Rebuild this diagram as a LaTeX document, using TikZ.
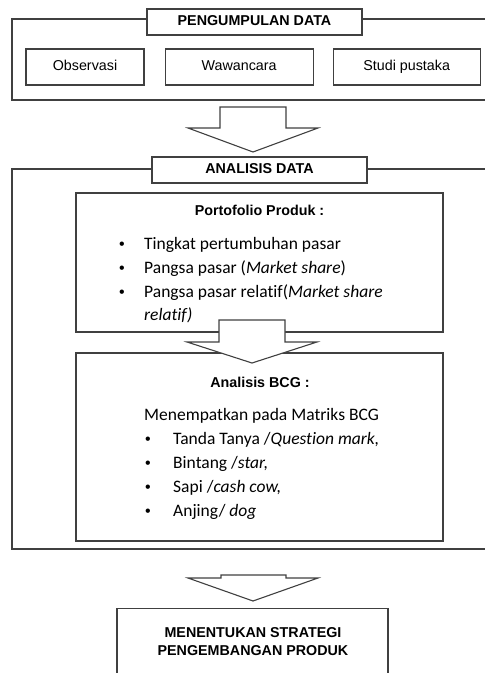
\documentclass[tikz,border=0pt]{standalone}
\usepackage{fontspec}
\setmainfont{Liberation Sans}
\newfontfamily\calibrifont[Ligatures=NoCommon]{Carlito}
\usetikzlibrary{positioning}

\tikzset{
  ln/.style={draw=black!75, line width=1.1pt},
  titlebox/.style={ln, fill=white, minimum width=215pt, minimum height=26pt, inner sep=0pt,
    text height=10pt, text depth=3pt, font=\fontsize{14.3}{16}\selectfont\bfseries},
  subbox/.style={ln, minimum height=36pt, inner sep=0pt, text height=10pt, text depth=3pt,
    font=\fontsize{14.3}{16}\selectfont},
  panel/.style={ln, minimum width=367pt, inner sep=0pt},
  blockarrow/.style={ln, fill=white, line join=miter},
  head/.style={anchor=base, inner sep=0pt, font=\fontsize{14.3}{16}\selectfont\bfseries},
  item/.style={anchor=base west, inner sep=0pt, font=\calibrifont\fontsize{17.5}{21}\selectfont},
  dot/.style={anchor=base, inner sep=0pt, font=\fontsize{16}{18}\selectfont},
}

\begin{document}
\begin{tikzpicture}[x=1pt, y=-1pt]
  \useasboundingbox (0,0) rectangle (485,673);
  \clip (0,0) rectangle (485,673);

  % pengumpulan data
  \draw[ln] (495,19) -- (12,19) -- (12,100) -- (495,100);
  \node[titlebox] (kumpul) at (254.5,22) {PENGUMPULAN DATA};
  \node[subbox, minimum width=118pt] (obs) at (85,67) {Observasi};
  \node[subbox, minimum width=148pt, right=20pt of obs] (wawan) {Wawancara};
  \node[subbox, minimum width=147pt, right=19pt of wawan] (studi) {Studi pustaka};

  \draw[blockarrow] (220,107) -- (286,107) -- (286,128) -- (318,128) -- (253,152)
    -- (188,128) -- (220,128) -- cycle;

  % analisis data
  \draw[ln] (495,169) -- (12,169) -- (12,549) -- (495,549);
  \node[titlebox] (analisis) at (259.5,170) {ANALISIS DATA};

  \node[panel, minimum height=139pt] (porto) at (259.5,262.5) {};
  \node[head] (portohead) at (259.5,215) {Portofolio Produk :};
  \node[dot] at (122,249) {•};
  \node[item] (p1) at (144,249) {Tingkat pertumbuhan pasar};
  \node[dot] at (122,273) {•};
  \node[item] (p2) at (144,273) {Pangsa pasar (\textit{Market share})};
  \node[dot] at (122,297) {•};
  \node[item] (p3) at (144,297) {Pangsa pasar relatif(\textit{Market share}};
  \node[item] (p3b) at (144,320) {\textit{relatif)}};

  \node[panel, minimum height=188pt] (bcg) at (259.5,447) {};
  \node[head] (bcghead) at (260,387) {Analisis BCG :};
  \node[item] (b0) at (144,420) {Menempatkan pada Matriks BCG};
  \node[dot] at (148,444) {•};
  \node[item] (b1) at (173,444) {Tanda Tanya /\textit{Question mark,}};
  \node[dot] at (148,468) {•};
  \node[item] (b2) at (173,468) {Bintang /\textit{star,}};
  \node[dot] at (148,492) {•};
  \node[item] (b3) at (173,492) {Sapi /\textit{cash cow,}};
  \node[dot] at (148,516) {•};
  \node[item] (b4) at (173,516) {Anjing/ \textit{dog}};

  \draw[blockarrow] (219,320) -- (285,320) -- (285,342) -- (317,342) -- (252,363)
    -- (187,342) -- (219,342) -- cycle;

  % strategi
  \draw[blockarrow] (221,575) -- (286,575) -- (286,578) -- (318,578) -- (253,601)
    -- (188,578) -- (221,578) -- cycle;
  \node[ln, minimum width=271pt, minimum height=90pt, inner sep=0pt, anchor=north] (strategi) at (252.5,608) {};
  \node[head] (strat1) at (253,637) {MENENTUKAN STRATEGI};
  \node[head] (strat2) at (253,655) {PENGEMBANGAN PRODUK};
\end{tikzpicture}
\end{document}
